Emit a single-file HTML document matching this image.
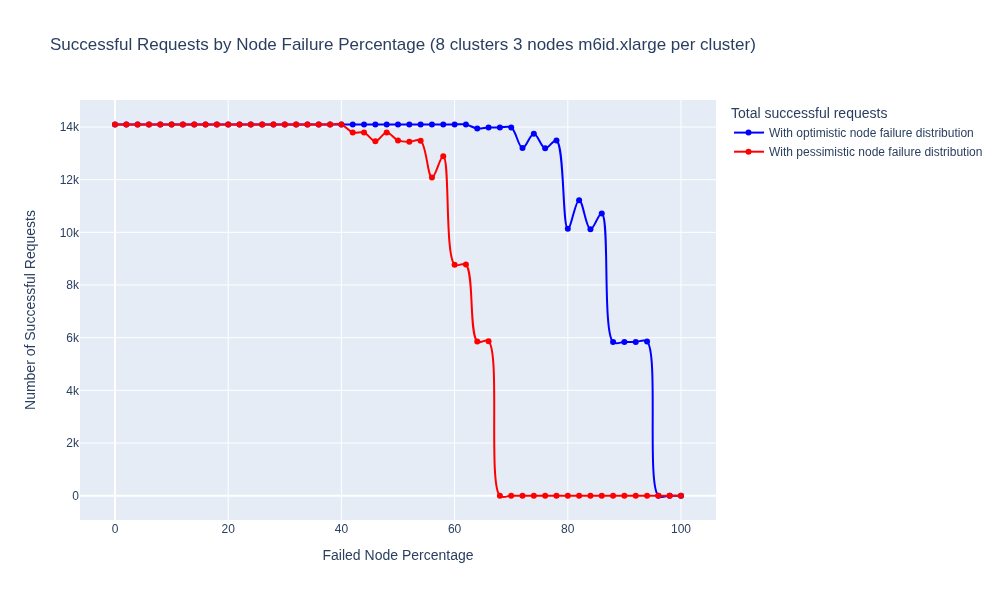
<!DOCTYPE html>
<html><head><meta charset="utf-8"><style>
html,body{margin:0;padding:0;background:#fff;}
svg{display:block;font-family:"Liberation Sans", sans-serif;will-change:transform;}
</style></head><body>
<svg width="1000" height="600" viewBox="0 0 1000 600">
<defs><clipPath id="clip"><rect x="80" y="100" width="636" height="420"/></clipPath></defs>
<rect x="0" y="0" width="1000" height="600" fill="#fff"/>
<rect x="80" y="100" width="636" height="420" fill="#E5ECF6"/>
<g stroke="#fff" stroke-width="1">
<line x1="228.2" x2="228.2" y1="100" y2="520" />
<line x1="341.4" x2="341.4" y1="100" y2="520" />
<line x1="454.6" x2="454.6" y1="100" y2="520" />
<line x1="567.8" x2="567.8" y1="100" y2="520" />
<line x1="681" x2="681" y1="100" y2="520" />
<line x1="80" x2="716" y1="443.029" y2="443.029" />
<line x1="80" x2="716" y1="390.358" y2="390.358" />
<line x1="80" x2="716" y1="337.687" y2="337.687" />
<line x1="80" x2="716" y1="285.015" y2="285.015" />
<line x1="80" x2="716" y1="232.344" y2="232.344" />
<line x1="80" x2="716" y1="179.673" y2="179.673" />
<line x1="80" x2="716" y1="127.002" y2="127.002" />
</g>
<line x1="115.0" x2="115.0" y1="100" y2="520" stroke="#fff" stroke-width="2"/>
<line x1="80" x2="716" y1="495.7" y2="495.7" stroke="#fff" stroke-width="2"/>
<path d="M115,124.5Q122.55,124.5 126.32,124.5C130.09,124.5 133.87,124.5 137.64,124.5C141.41,124.5 145.19,124.5 148.96,124.5C152.73,124.5 156.51,124.5 160.28,124.5C164.05,124.5 167.83,124.5 171.6,124.5C175.37,124.5 179.15,124.5 182.92,124.5C186.69,124.5 190.47,124.5 194.24,124.5C198.01,124.5 201.79,124.5 205.56,124.5C209.33,124.5 213.11,124.5 216.88,124.5C220.65,124.5 224.43,124.5 228.2,124.5C231.97,124.5 235.75,124.5 239.52,124.5C243.29,124.5 247.07,124.5 250.84,124.5C254.61,124.5 258.39,124.5 262.16,124.5C265.93,124.5 269.71,124.5 273.48,124.5C277.25,124.5 281.03,124.5 284.8,124.5C288.57,124.5 292.35,124.5 296.12,124.5C299.89,124.5 303.67,124.5 307.44,124.5C311.21,124.5 314.99,124.5 318.76,124.5C322.53,124.5 326.31,124.5 330.08,124.5C333.85,124.5 337.63,124.5 341.4,124.5C345.17,124.5 348.95,124.5 352.72,124.5C356.49,124.5 360.27,124.5 364.04,124.5C367.81,124.5 371.59,124.5 375.36,124.5C379.13,124.5 382.91,124.5 386.68,124.5C390.45,124.5 394.23,124.5 398,124.5C401.77,124.5 405.55,124.5 409.32,124.5C413.09,124.5 416.87,124.5 420.64,124.5C424.41,124.5 428.19,124.5 431.96,124.5C435.73,124.5 439.51,124.5 443.28,124.5C447.05,124.5 450.83,124.5 454.6,124.5C458.37,124.5 462.2,123.86 465.92,124.5C469.75,125.16 473.41,128.05 477.24,128.53C480.96,128.99 484.78,127.62 488.56,127.45C492.33,127.28 496.11,127.54 499.88,127.53C503.65,127.52 507.9,125.47 511.2,127.4C515.96,130.17 518.48,147.68 522.52,148.02C526.08,148.32 530.07,133.68 533.84,133.69C537.62,133.7 541.06,147.56 545.16,148.2C548.69,148.76 553.35,139.1 556.48,140.51C564.46,144.11 562.37,228.16 567.8,228.84C571,229.24 575.36,200.13 579.12,200.14C582.91,200.15 586.1,228.72 590.44,229.26C593.86,229.69 598.63,212.61 601.76,213.46C609.82,215.67 602.39,332.31 613.08,342.03C616.25,344.91 620.63,341.97 624.4,341.95C628.17,341.93 631.95,341.96 635.72,341.9C639.49,341.84 643.85,338.7 647.04,341.58C658.81,352.22 646.58,484.76 658.36,495.7C661.55,498.66 665.91,495.7 669.68,495.7Q673.45,495.7 681,495.7" fill="none" stroke="#0000ff" stroke-width="2" clip-path="url(#clip)"/>
<circle cx="115" cy="124.5" r="3" fill="#0000ff"/>
<circle cx="126.32" cy="124.5" r="3" fill="#0000ff"/>
<circle cx="137.64" cy="124.5" r="3" fill="#0000ff"/>
<circle cx="148.96" cy="124.5" r="3" fill="#0000ff"/>
<circle cx="160.28" cy="124.5" r="3" fill="#0000ff"/>
<circle cx="171.6" cy="124.5" r="3" fill="#0000ff"/>
<circle cx="182.92" cy="124.5" r="3" fill="#0000ff"/>
<circle cx="194.24" cy="124.5" r="3" fill="#0000ff"/>
<circle cx="205.56" cy="124.5" r="3" fill="#0000ff"/>
<circle cx="216.88" cy="124.5" r="3" fill="#0000ff"/>
<circle cx="228.2" cy="124.5" r="3" fill="#0000ff"/>
<circle cx="239.52" cy="124.5" r="3" fill="#0000ff"/>
<circle cx="250.84" cy="124.5" r="3" fill="#0000ff"/>
<circle cx="262.16" cy="124.5" r="3" fill="#0000ff"/>
<circle cx="273.48" cy="124.5" r="3" fill="#0000ff"/>
<circle cx="284.8" cy="124.5" r="3" fill="#0000ff"/>
<circle cx="296.12" cy="124.5" r="3" fill="#0000ff"/>
<circle cx="307.44" cy="124.5" r="3" fill="#0000ff"/>
<circle cx="318.76" cy="124.5" r="3" fill="#0000ff"/>
<circle cx="330.08" cy="124.5" r="3" fill="#0000ff"/>
<circle cx="341.4" cy="124.5" r="3" fill="#0000ff"/>
<circle cx="352.72" cy="124.5" r="3" fill="#0000ff"/>
<circle cx="364.04" cy="124.5" r="3" fill="#0000ff"/>
<circle cx="375.36" cy="124.5" r="3" fill="#0000ff"/>
<circle cx="386.68" cy="124.5" r="3" fill="#0000ff"/>
<circle cx="398" cy="124.5" r="3" fill="#0000ff"/>
<circle cx="409.32" cy="124.5" r="3" fill="#0000ff"/>
<circle cx="420.64" cy="124.5" r="3" fill="#0000ff"/>
<circle cx="431.96" cy="124.5" r="3" fill="#0000ff"/>
<circle cx="443.28" cy="124.5" r="3" fill="#0000ff"/>
<circle cx="454.6" cy="124.5" r="3" fill="#0000ff"/>
<circle cx="465.92" cy="124.5" r="3" fill="#0000ff"/>
<circle cx="477.24" cy="128.53" r="3" fill="#0000ff"/>
<circle cx="488.56" cy="127.45" r="3" fill="#0000ff"/>
<circle cx="499.88" cy="127.53" r="3" fill="#0000ff"/>
<circle cx="511.2" cy="127.4" r="3" fill="#0000ff"/>
<circle cx="522.52" cy="148.02" r="3" fill="#0000ff"/>
<circle cx="533.84" cy="133.69" r="3" fill="#0000ff"/>
<circle cx="545.16" cy="148.2" r="3" fill="#0000ff"/>
<circle cx="556.48" cy="140.51" r="3" fill="#0000ff"/>
<circle cx="567.8" cy="228.84" r="3" fill="#0000ff"/>
<circle cx="579.12" cy="200.14" r="3" fill="#0000ff"/>
<circle cx="590.44" cy="229.26" r="3" fill="#0000ff"/>
<circle cx="601.76" cy="213.46" r="3" fill="#0000ff"/>
<circle cx="613.08" cy="342.03" r="3" fill="#0000ff"/>
<circle cx="624.4" cy="341.95" r="3" fill="#0000ff"/>
<circle cx="635.72" cy="341.9" r="3" fill="#0000ff"/>
<circle cx="647.04" cy="341.58" r="3" fill="#0000ff"/>
<circle cx="658.36" cy="495.7" r="3" fill="#0000ff"/>
<circle cx="669.68" cy="495.7" r="3" fill="#0000ff"/>
<circle cx="681" cy="495.7" r="3" fill="#0000ff"/>
<path d="M115,124.5Q122.55,124.5 126.32,124.5C130.09,124.5 133.87,124.5 137.64,124.5C141.41,124.5 145.19,124.5 148.96,124.5C152.73,124.5 156.51,124.5 160.28,124.5C164.05,124.5 167.83,124.5 171.6,124.5C175.37,124.5 179.15,124.5 182.92,124.5C186.69,124.5 190.47,124.5 194.24,124.5C198.01,124.5 201.79,124.5 205.56,124.5C209.33,124.5 213.11,124.5 216.88,124.5C220.65,124.5 224.43,124.5 228.2,124.5C231.97,124.5 235.75,124.5 239.52,124.5C243.29,124.5 247.07,124.5 250.84,124.5C254.61,124.5 258.39,124.5 262.16,124.5C265.93,124.5 269.71,124.5 273.48,124.5C277.25,124.5 281.03,124.5 284.8,124.5C288.57,124.5 292.35,124.5 296.12,124.5C299.89,124.5 303.67,124.5 307.44,124.5C311.21,124.5 314.99,124.5 318.76,124.5C322.53,124.5 326.31,124.5 330.08,124.5C333.85,124.5 337.8,123.37 341.4,124.5C345.38,125.75 348.74,131.11 352.72,132.4C356.32,133.57 360.46,131.34 364.04,132.59C368.05,133.97 371.59,141.21 375.36,141.2C379.14,141.19 382.87,132.59 386.68,132.51C390.42,132.42 394.03,138.88 398,140.41C401.61,141.79 405.54,141.75 409.32,141.8C413.09,141.85 417.47,138.61 420.64,140.72C426.47,144.62 427.63,177.15 431.96,177.57C435.39,177.89 440.15,155.63 443.28,156.23C449.94,157.53 444.82,255.91 454.6,264.66C457.75,267.48 462.79,261.9 465.92,264.58C474.12,271.61 469.04,334.7 477.24,341.56C480.37,344.17 485.37,338.32 488.56,341.19C500.35,351.79 488.09,484.74 499.88,495.7C503.07,498.66 507.43,495.7 511.2,495.7C514.97,495.7 518.75,495.7 522.52,495.7C526.29,495.7 530.07,495.7 533.84,495.7C537.61,495.7 541.39,495.7 545.16,495.7C548.93,495.7 552.71,495.7 556.48,495.7C560.25,495.7 564.03,495.7 567.8,495.7C571.57,495.7 575.35,495.7 579.12,495.7C582.89,495.7 586.67,495.7 590.44,495.7C594.21,495.7 597.99,495.7 601.76,495.7C605.53,495.7 609.31,495.7 613.08,495.7C616.85,495.7 620.63,495.7 624.4,495.7C628.17,495.7 631.95,495.7 635.72,495.7C639.49,495.7 643.27,495.7 647.04,495.7C650.81,495.7 654.59,495.7 658.36,495.7C662.13,495.7 665.91,495.7 669.68,495.7Q673.45,495.7 681,495.7" fill="none" stroke="#ff0000" stroke-width="2" clip-path="url(#clip)"/>
<circle cx="115" cy="124.5" r="3" fill="#ff0000"/>
<circle cx="126.32" cy="124.5" r="3" fill="#ff0000"/>
<circle cx="137.64" cy="124.5" r="3" fill="#ff0000"/>
<circle cx="148.96" cy="124.5" r="3" fill="#ff0000"/>
<circle cx="160.28" cy="124.5" r="3" fill="#ff0000"/>
<circle cx="171.6" cy="124.5" r="3" fill="#ff0000"/>
<circle cx="182.92" cy="124.5" r="3" fill="#ff0000"/>
<circle cx="194.24" cy="124.5" r="3" fill="#ff0000"/>
<circle cx="205.56" cy="124.5" r="3" fill="#ff0000"/>
<circle cx="216.88" cy="124.5" r="3" fill="#ff0000"/>
<circle cx="228.2" cy="124.5" r="3" fill="#ff0000"/>
<circle cx="239.52" cy="124.5" r="3" fill="#ff0000"/>
<circle cx="250.84" cy="124.5" r="3" fill="#ff0000"/>
<circle cx="262.16" cy="124.5" r="3" fill="#ff0000"/>
<circle cx="273.48" cy="124.5" r="3" fill="#ff0000"/>
<circle cx="284.8" cy="124.5" r="3" fill="#ff0000"/>
<circle cx="296.12" cy="124.5" r="3" fill="#ff0000"/>
<circle cx="307.44" cy="124.5" r="3" fill="#ff0000"/>
<circle cx="318.76" cy="124.5" r="3" fill="#ff0000"/>
<circle cx="330.08" cy="124.5" r="3" fill="#ff0000"/>
<circle cx="341.4" cy="124.5" r="3" fill="#ff0000"/>
<circle cx="352.72" cy="132.4" r="3" fill="#ff0000"/>
<circle cx="364.04" cy="132.59" r="3" fill="#ff0000"/>
<circle cx="375.36" cy="141.2" r="3" fill="#ff0000"/>
<circle cx="386.68" cy="132.51" r="3" fill="#ff0000"/>
<circle cx="398" cy="140.41" r="3" fill="#ff0000"/>
<circle cx="409.32" cy="141.8" r="3" fill="#ff0000"/>
<circle cx="420.64" cy="140.72" r="3" fill="#ff0000"/>
<circle cx="431.96" cy="177.57" r="3" fill="#ff0000"/>
<circle cx="443.28" cy="156.23" r="3" fill="#ff0000"/>
<circle cx="454.6" cy="264.66" r="3" fill="#ff0000"/>
<circle cx="465.92" cy="264.58" r="3" fill="#ff0000"/>
<circle cx="477.24" cy="341.56" r="3" fill="#ff0000"/>
<circle cx="488.56" cy="341.19" r="3" fill="#ff0000"/>
<circle cx="499.88" cy="495.7" r="3" fill="#ff0000"/>
<circle cx="511.2" cy="495.7" r="3" fill="#ff0000"/>
<circle cx="522.52" cy="495.7" r="3" fill="#ff0000"/>
<circle cx="533.84" cy="495.7" r="3" fill="#ff0000"/>
<circle cx="545.16" cy="495.7" r="3" fill="#ff0000"/>
<circle cx="556.48" cy="495.7" r="3" fill="#ff0000"/>
<circle cx="567.8" cy="495.7" r="3" fill="#ff0000"/>
<circle cx="579.12" cy="495.7" r="3" fill="#ff0000"/>
<circle cx="590.44" cy="495.7" r="3" fill="#ff0000"/>
<circle cx="601.76" cy="495.7" r="3" fill="#ff0000"/>
<circle cx="613.08" cy="495.7" r="3" fill="#ff0000"/>
<circle cx="624.4" cy="495.7" r="3" fill="#ff0000"/>
<circle cx="635.72" cy="495.7" r="3" fill="#ff0000"/>
<circle cx="647.04" cy="495.7" r="3" fill="#ff0000"/>
<circle cx="658.36" cy="495.7" r="3" fill="#ff0000"/>
<circle cx="669.68" cy="495.7" r="3" fill="#ff0000"/>
<circle cx="681" cy="495.7" r="3" fill="#ff0000"/>
<g fill="#2a3f5f" font-size="12">
<text x="115" y="533" text-anchor="middle">0</text>
<text x="228.2" y="533" text-anchor="middle">20</text>
<text x="341.4" y="533" text-anchor="middle">40</text>
<text x="454.6" y="533" text-anchor="middle">60</text>
<text x="567.8" y="533" text-anchor="middle">80</text>
<text x="681" y="533" text-anchor="middle">100</text>
<text x="79" y="499.9" text-anchor="end">0</text>
<text x="79" y="447.23" text-anchor="end">2k</text>
<text x="79" y="394.56" text-anchor="end">4k</text>
<text x="79" y="341.89" text-anchor="end">6k</text>
<text x="79" y="289.22" text-anchor="end">8k</text>
<text x="79" y="236.54" text-anchor="end">10k</text>
<text x="79" y="183.87" text-anchor="end">12k</text>
<text x="79" y="131.2" text-anchor="end">14k</text>
</g>
<text x="50" y="50" font-size="17" fill="#2a3f5f">Successful Requests by Node Failure Percentage (8 clusters 3 nodes m6id.xlarge per cluster)</text>
<text x="398" y="560" font-size="14" fill="#2a3f5f" text-anchor="middle">Failed Node Percentage</text>
<text transform="translate(35,310) rotate(-90)" font-size="14" fill="#2a3f5f" text-anchor="middle">Number of Successful Requests</text>
<text x="731" y="117.5" font-size="14" fill="#2a3f5f">Total successful requests</text>
<g>
<line x1="734" x2="764" y1="132.6" y2="132.6" stroke="#0000ff" stroke-width="2"/>
<circle cx="748.5" cy="132.6" r="3" fill="#0000ff"/>
<text x="769" y="136.6" font-size="12" fill="#2a3f5f">With optimistic node failure distribution</text>
<line x1="734" x2="764" y1="151.7" y2="151.7" stroke="#ff0000" stroke-width="2"/>
<circle cx="748.5" cy="151.7" r="3" fill="#ff0000"/>
<text x="769" y="155.8" font-size="12" fill="#2a3f5f">With pessimistic node failure distribution</text>
</g>
</svg>
</body></html>
